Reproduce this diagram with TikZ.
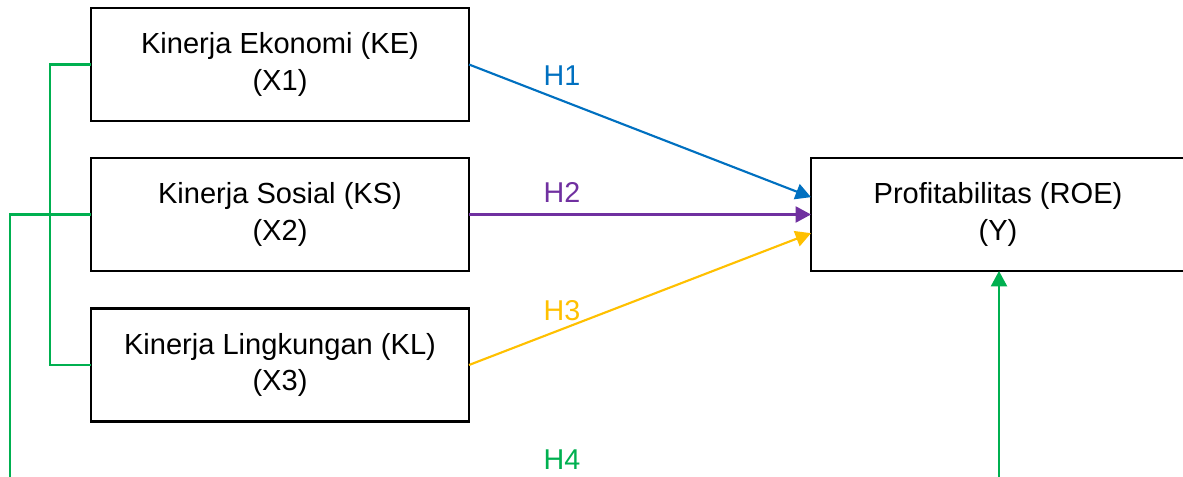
\documentclass[tikz,border=0pt]{standalone}
\usepackage{fontspec}
\setmainfont{Liberation Sans}
\usetikzlibrary{arrows.meta,calc}

\definecolor{hblue}{HTML}{0070C0}
\definecolor{hpurple}{HTML}{7030A0}
\definecolor{hyellow}{HTML}{FFC000}
\definecolor{hgreen}{HTML}{00B050}

\tikzset{
  varbox/.style={draw=black, line width=2pt, rectangle, outer sep=0pt,
    minimum height=84.75pt, align=center,
    font=\fontsize{21.8pt}{27.5pt}\selectfont},
  hlabel/.style={font=\fontsize{21.5pt}{24pt}\selectfont},
  path/.style={line width=1.6pt},
  tip/.style={-{Triangle[length=11.5pt,width=12pt]}}
}

\begin{document}
\begin{tikzpicture}[x=0.75pt, y=-0.75pt]
  \useasboundingbox (0,0) rectangle (1183,477);

  % independent variables
  \node[varbox, minimum width=283.5pt] (KE) at (280,64.5) {Kinerja Ekonomi (KE)\\(X1)};
  \node[varbox, minimum width=283.5pt] (KS) at (280,214.5) {Kinerja Sosial (KS)\\(X2)};
  \node[varbox, minimum width=283.5pt] (KL) at (280,365) {Kinerja Lingkungan (KL)\\(X3)};

  % dependent variable
  \node[varbox, minimum width=280.5pt] (ROE) at (998,214.5) {Profitabilitas (ROE)\\(Y)};

  % hypothesis paths H1--H3
  \draw[path, tip, draw=hblue, fill=hblue] (KE.east) -- ([yshift=13pt]ROE.west);
  \draw[path, tip, draw=hpurple, fill=hpurple] (KS.east) -- (ROE.west);
  \draw[path, tip, draw=hyellow, fill=hyellow] (KL.east) -- ([yshift=-14pt]ROE.west);

  \node[hlabel, text=hblue] (h1) at (562,76) {H1};
  \node[hlabel, text=hpurple] (h2) at (562,192) {H2};
  \node[hlabel, text=hyellow] (h3) at (562,311) {H3};
  \node[hlabel, text=hgreen] (h4) at (562,460) {H4};

  % joint path H4: bracket around X1--X3 into Y
  \coordinate (brTop) at (50,65);
  \coordinate (brBot) at (50,365);
  \coordinate (joinL) at (10,214.5);
  \coordinate (downL) at (10,480);
  \coordinate (upR) at (999,480);

  \draw[path, draw=hgreen] (KE.west) -- (KE.west -| brTop) -- (KL.west -| brBot) -- (KL.west);
  \draw[path, draw=hgreen] (KS.west) -- (joinL) -- (downL);
  \draw[path, tip, draw=hgreen, fill=hgreen] (upR) -- (upR |- ROE.south);
\end{tikzpicture}
\end{document}
